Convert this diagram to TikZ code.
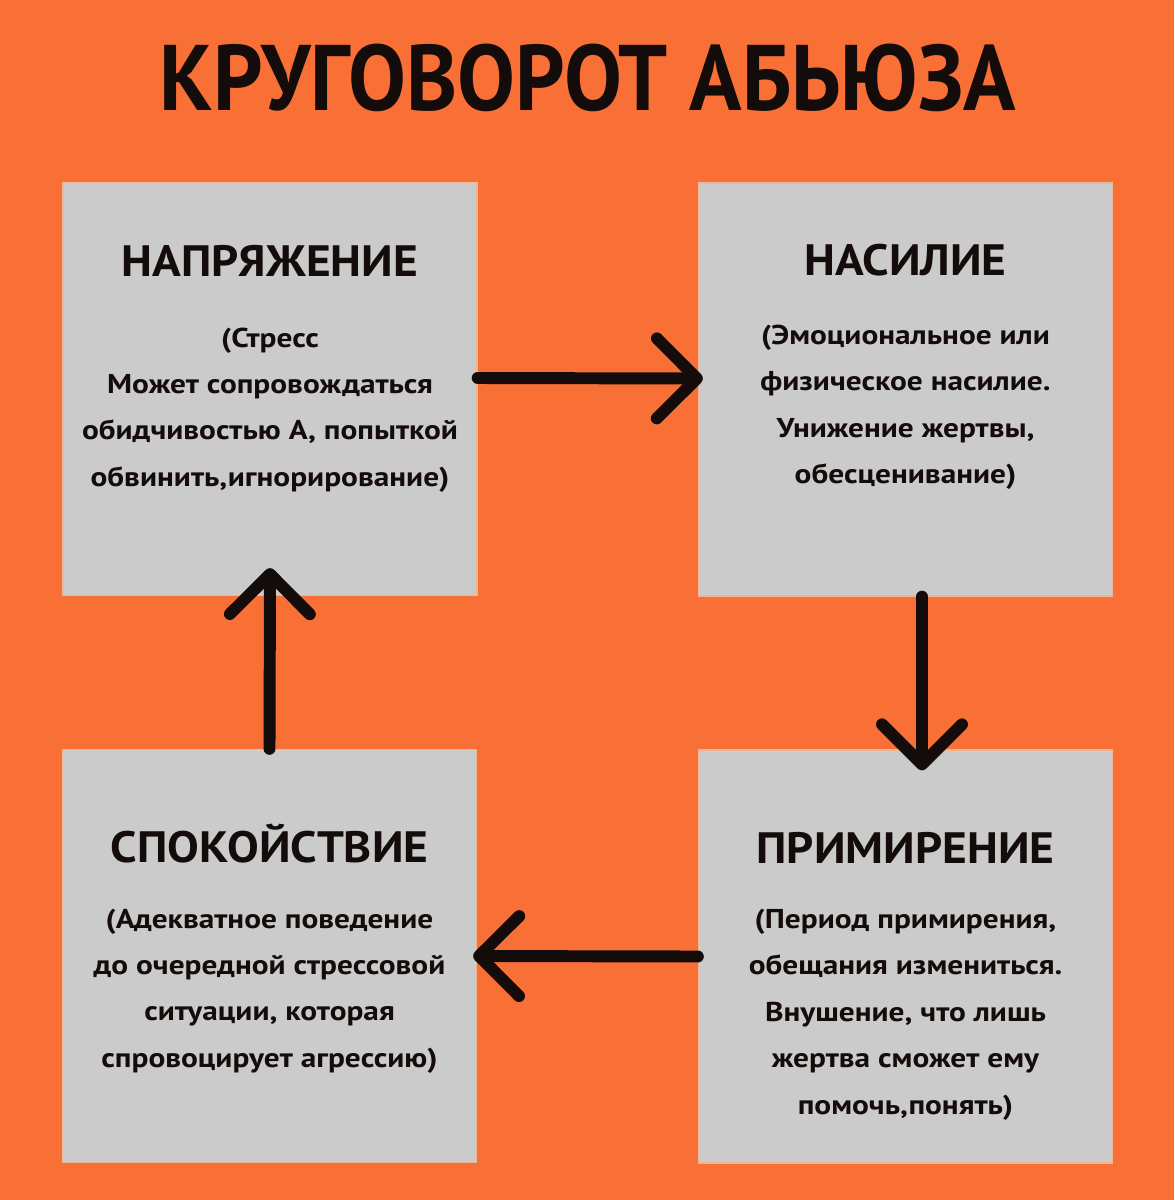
\documentclass[tikz,border=0pt]{standalone}
\usepackage{fontspec}
\setmainfont{PT Sans}
\newfontfamily\titlefont[FakeStretch=0.93]{PT Sans}
\newfontfamily\headfont[FakeStretch=1.08]{PT Sans}
\newfontfamily\bodyfont[FakeStretch=1.15]{PT Sans}
\usetikzlibrary{positioning}
\usetikzlibrary{arrows.meta}

\definecolor{bgorange}{RGB}{249,112,55}
\definecolor{cardgray}{RGB}{203,203,203}
\definecolor{cardedge}{RGB}{236,182,152}
\definecolor{inkblack}{RGB}{20,12,10}

\tikzset{
  card/.style={fill=cardgray, draw=cardedge, line width=0.8pt, minimum width=8.28cm, minimum height=8.26cm, inner sep=0pt},
  head/.style={font=\headfont\fontsize{25}{30}\selectfont\bfseries, text=inkblack, inner sep=0pt, text height=17.5pt, text depth=0pt},
  body/.style={font=\bodyfont\fontsize{15.5}{26.4}\selectfont\bfseries, text=inkblack, align=center, inner sep=0pt},
  flow/.style={draw=inkblack, line width=6.8pt, line cap=round, -{Straight Barb[round, length=0.8cm, width=1.6cm]}},
}

\begin{document}
\begin{tikzpicture}[x=0.02cm, y=-0.02cm]
  \fill[bgorange] (0,0) rectangle (1174,1200);

  \node[font=\titlefont\fontsize{53}{60}\selectfont\bfseries, text=inkblack, inner sep=0pt, text height=37pt, text depth=0pt] (title) at (588,78) {КРУГОВОРОТ АБЬЮЗА};

  % the four stages
  \node[card] (tl) at (270,389) {};
  \node[card] (tr) at (905.5,389.5) {};
  \node[card] (bl) at (269.5,956) {};
  \node[card] (br) at (905.5,956.5) {};

  \node[head, below=1.28cm of tl.north] (tlh) {НАПРЯЖЕНИЕ};
  \node[body, below=1.0cm of tlh.south] (tlb) {(Стресс\\Может сопровождаться\\обидчивостью А, попыткой\\обвинить,игнорирование)};

  \node[head, below=1.24cm of tr.north] (trh) {НАСИЛИЕ};
  \node[body, below=0.98cm of trh.south] (trb) {(Эмоциональное или\\физическое насилие.\\Унижение жертвы,\\обесценивание)};

  \node[head, below=1.66cm of bl.north] (blh) {СПОКОЙСТВИЕ};
  \node[body, below=0.9cm of blh.south] (blb) {(Адекватное поведение\\до очередной стрессовой\\ситуации, которая\\спровоцирует агрессию)};

  \node[head, below=1.66cm of br.north] (brh) {ПРИМИРЕНИЕ};
  \node[body, below=0.9cm of brh.south] (brb) {(Период примирения,\\обещания измениться.\\Внушение, что лишь\\жертва сможет ему\\помочь,понять)};

  % the cycle
  \draw[flow] ([yshift=0.22cm]tl.east) -- ([yshift=0.22cm, xshift=0.1cm]tr.west);
  \draw[flow] ([xshift=0.33cm]tr.south) -- ([xshift=0.33cm, yshift=-0.42cm]br.north);
  \draw[flow] (br.west) -- ([xshift=-0.08cm]bl.east);
  \draw[flow] (bl.north) -- ([yshift=0.56cm]tl.south);
\end{tikzpicture}
\end{document}
